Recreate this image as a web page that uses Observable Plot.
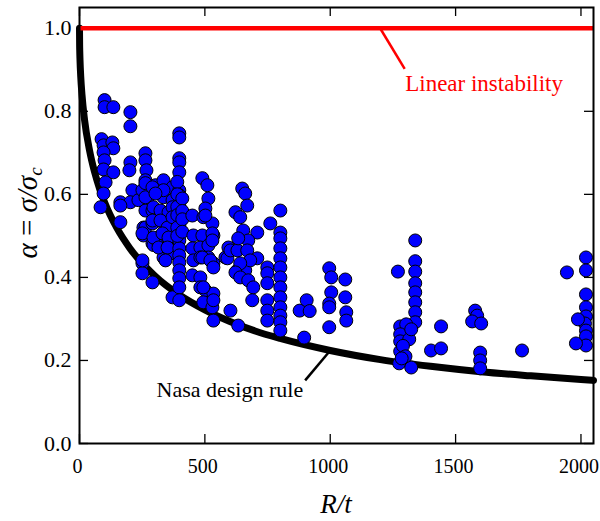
<!DOCTYPE html>
<html><head><meta charset="utf-8">
<script src="https://cdn.jsdelivr.net/npm/d3@7"></script>
<script src="https://cdn.jsdelivr.net/npm/@observablehq/plot@0.6"></script>
<style>
body{margin:0;background:#fff}
</style>
</head><body><div id="chart"></div>
<script>
// Measured buckling data: R/t and knockdown factor alpha
const rt = [
 100,100,135,203,203,88,96,131,135,96,100,203,199,96,135,104,96,84,163,211,203,235,163,
 263,263,267,263,263,271,263,255,255,291,251,251,291,
 163,251,263,263,263,251,303,335,335,371,291,315,291,295,315,355,335,363,251,371,
 291,335,303,295,323,355,291,323,351,295,331,355,315,351,343,
 398,398,398,398,398,398,398,398,398,398,398,398,398,398,398,398,398,398,398,398,398,398,
 371,371,371,390,390,390,390,390,390,410,410,410,410,
 490,510,514,450,502,494,530,454,490,534,450,482,514,454,482,514,534,450,482,482,502,534,494,530,582,594,
 502,530,530,490,522,534,494,534,534,602,633,590,602,630,630,661,
 649,661,669,622,641,709,653,673,633,669,709,681,641,622,641,673,693,689,
 749,749,749,749,749,749,761,
 801,801,801,801,801,801,801,801,801,801,801,801,801,
 878,906,918,896,
 996,1004,1004,996,996,996,1060,1060,1064,1064,
 1270,1339,1339,1339,1339,1339,1339,1339,1339,
 1279,1303,1279,1279,1279,1275,1315,1323,1323,1290,1300,1285,
 1442,1402,1442,
 1578,1586,1566,1602,1598,1598,1598,
 1765,
 1944,2020,2020,2020,2020,2020,2016,2020,2020,2020,1988,1980
];
const alpha = [
 .827,.810,.810,.798,.764,.733,.718,.725,.711,.701,.682,.677,.658,.660,.653,.629,.602,.569,.581,.610,.581,.586,.533,
 .699,.682,.658,.634,.610,.590,.561,.520,.501,.482,.434,.410,.388,
 .573,.610,.627,.593,.520,.506,.622,.634,.593,.617,.561,.537,.530,.478,.482,.489,.448,.458,.441,.352,
 .617,.610,.602,.569,.561,.557,.537,.537,.520,.496,.506,.496,.472,.472,.441,
 .747,.737,.687,.677,.653,.610,.598,.585,.573,.561,.549,.537,.525,.508,.489,.470,.453,.436,.417,.398,.376,.345,
 .586,.569,.545,.630,.600,.570,.550,.520,.500,.590,.560,.540,.510,
 .639,.622,.590,.549,.566,.545,.530,.501,.501,.501,.470,.472,.477,.441,.448,.448,.434,.405,.400,.376,.369,.361,.340,.328,.448,.472,
 .549,.506,.489,.448,.441,.424,.376,.345,.296,.320,.284,.446,.465,.465,.417,.417,
 .614,.602,.573,.557,.545,.508,.513,.489,.494,.465,.446,.441,.434,.412,.400,.393,.376,.345,
 .424,.410,.386,.345,.320,.296,.530,
 .561,.508,.494,.470,.446,.424,.400,.376,.352,.328,.308,.292,.272,
 .320,.345,.319,.255,
 .422,.400,.364,.337,.328,.280,.395,.352,.316,.296,
 .414,.489,.439,.414,.386,.364,.340,.316,.292,
 .282,.287,.263,.246,.222,.193,.251,.275,.183,.235,.210,.205,
 .282,.224,.229,
 .320,.308,.294,.289,.219,.200,.181,
 .224,
 .412,.448,.417,.359,.328,.306,.289,.272,.258,.236,.299,.241
];
// NASA design rule values
const ruleRt    = [0,0.5,1,2,5,10,20,40,60,80,100,150,200,300,400,500,600,700,800,1000,1200,1400,1600,1800,2000,2050];
const ruleAlpha = [1.0,0.961,0.945,0.924,0.883,0.839,0.780,0.706,0.654,0.614,0.581,0.518,0.471,0.404,0.357,0.322,0.294,0.271,0.253,0.224,0.202,0.186,0.173,0.163,0.154,0.152];
// Linear instability level
const linearAlpha = [1.0];
// Tick values
const xTicks = [0,500,1000,1500,2000];
const yTicks = [0.0,0.2,0.4,0.6,0.8,1.0];
// Annotations
const annLabels = ["Linear instability","Nasa design rule"];
const annTextRt = [1299, 892];
const annTextAlpha = [0.866, 0.128];
const annFromRt = [1297, 900];
const annFromAlpha = [0.902, 0.152];
const annToRt = [1199, 1000];
const annToAlpha = [1.0, 0.224];
const annColors = ["#ff0000","#000000"];

const points = rt.map((x,i)=>({rt:x, alpha:alpha[i]}));
const curve = ruleRt.map((x,i)=>({rt:x, alpha:ruleAlpha[i]}));
const ann = annLabels.map((t,i)=>({text:t, x:annTextRt[i], y:annTextAlpha[i], x1:annFromRt[i], y1:annFromAlpha[i], x2:annToRt[i], y2:annToAlpha[i], c:annColors[i]}));

const W=600,H=521, mL=79, mR=7, mT=7, mB=78;
const innerW = W-mL-mR, innerH = H-mT-mB, tl = 9;
const FONT = "Liberation Serif";

const chart = Plot.plot({
  width: W, height: H,
  marginLeft: mL, marginRight: mR, marginTop: mT, marginBottom: mB,
  style: {background: "white", color: "black"},
  x: {domain: [0, 2050]},
  y: {domain: [0, 1.05]},
  marks: [
    Plot.axisX(xTicks, {tickSize: 0, tickPadding: 15, fontSize: 20, dx: -2, label: null, tickFormat: d => String(d)}),
    Plot.axisY(yTicks, {tickSize: 0, tickPadding: 8, fontSize: 22, label: null, tickFormat: d => d.toFixed(1)}),
    Plot.tickX(xTicks, {x: d => d, insetTop: innerH - tl, stroke: "black", strokeWidth: 1.3}),
    Plot.tickX(xTicks, {x: d => d, insetBottom: innerH - tl, stroke: "black", strokeWidth: 1.3}),
    Plot.tickY(yTicks, {y: d => d, insetRight: innerW - tl, stroke: "black", strokeWidth: 1.3}),
    Plot.tickY(yTicks, {y: d => d, insetLeft: innerW - tl, stroke: "black", strokeWidth: 1.3}),
    Plot.line(curve, {x: "rt", y: "alpha", stroke: "black", strokeWidth: 7, curve: "monotone-x"}),
    Plot.ruleY(linearAlpha, {stroke: "#ff0000", strokeWidth: 4.5}),
    Plot.link(ann, {x1: "x1", y1: "y1", x2: "x2", y2: "y2", stroke: "c", strokeWidth: 2.5}),
    Plot.text(ann.slice(0,1), {x: "x", y: "y", text: "text", fill: "c", textAnchor: "start", lineAnchor: "middle", fontSize: 23}),
    Plot.text(ann.slice(1), {x: "x", y: "y", text: "text", fill: "c", textAnchor: "end", lineAnchor: "middle", fontSize: 22}),
    Plot.dot(points, {x: "rt", y: "alpha", r: 6.5, fill: "#0000ff", stroke: "black", strokeWidth: 1}),
    Plot.frame({stroke: "black", strokeWidth: 2})
  ]
});

const svg = d3.select(chart);
// x label
svg.append("text").attr("x", mL + innerW/2).attr("y", 513)
  .attr("text-anchor", "middle").attr("font-size", 27).attr("font-style", "italic")
  .text("R/t");
// y label
const yl = svg.append("text").attr("transform", `translate(37,${mT + innerH/2 - 12}) rotate(-90)`)
  .attr("text-anchor", "middle").attr("font-size", 29);
yl.append("tspan").attr("font-style", "italic").text("α");
yl.append("tspan").text(" = ");
yl.append("tspan").attr("font-style", "italic").text("σ/σ");
yl.append("tspan").attr("font-style", "italic").attr("font-size", 19).attr("dy", 5).text("c");

// serif font on every text element and group
svg.attr("font-family", FONT).style("font-family", FONT);
svg.selectAll("g").attr("font-family", FONT).style("font-family", FONT);
svg.selectAll("text").attr("font-family", FONT).style("font-family", FONT);

document.getElementById("chart").appendChild(chart);
</script>
</body></html>
